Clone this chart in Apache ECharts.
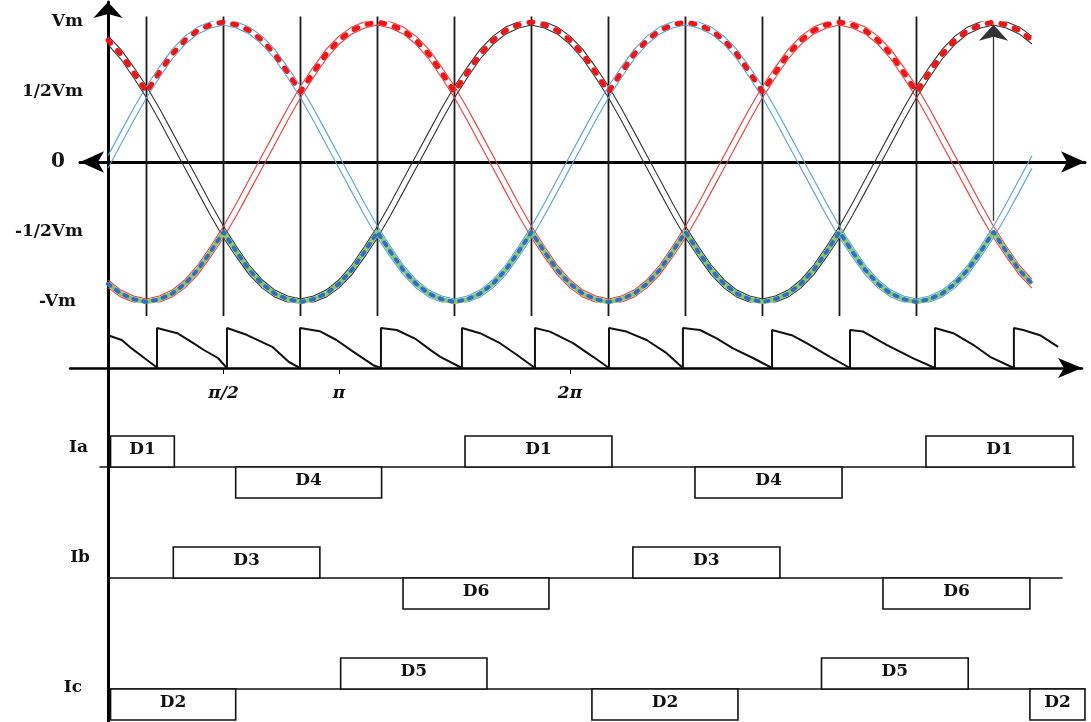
<!DOCTYPE html>
<html><head><meta charset="utf-8">
<script src="https://cdn.jsdelivr.net/npm/echarts@6/dist/echarts.min.js"></script>
<style>html,body{margin:0;padding:0;background:#fff}#c{width:1091px;height:722px}</style>
</head><body><div id="c"></div>
<script>
// ---------- DATA ----------
// sampling angles (degrees) for the three phase voltages
const angles = Array.from({length: 73}, (_, i) => i * 10);
// phase voltages in units of Vm, read at every 10 degrees
const phaseBlue = [0,.17,.34,.5,.64,.77,.87,.94,.98,1,.98,.94,.87,.77,.64,.5,.34,.17,
  0,-.17,-.34,-.5,-.64,-.77,-.87,-.94,-.98,-1,-.98,-.94,-.87,-.77,-.64,-.5,-.34,-.17,
  0,.17,.34,.5,.64,.77,.87,.94,.98,1,.98,.94,.87,.77,.64,.5,.34,.17,
  0,-.17,-.34,-.5,-.64,-.77,-.87,-.94,-.98,-1,-.98,-.94,-.87,-.77,-.64,-.5,-.34,-.17,0];
const phaseRed = [-.87,-.94,-.98,-1,-.98,-.94,-.87,-.77,-.64,-.5,-.34,-.17,
  0,.17,.34,.5,.64,.77,.87,.94,.98,1,.98,.94,.87,.77,.64,.5,.34,.17,
  0,-.17,-.34,-.5,-.64,-.77,
  -.87,-.94,-.98,-1,-.98,-.94,-.87,-.77,-.64,-.5,-.34,-.17,
  0,.17,.34,.5,.64,.77,.87,.94,.98,1,.98,.94,.87,.77,.64,.5,.34,.17,
  0,-.17,-.34,-.5,-.64,-.77,-.87];
const phaseBlack = [.87,.77,.64,.5,.34,.17,
  0,-.17,-.34,-.5,-.64,-.77,-.87,-.94,-.98,-1,-.98,-.94,-.87,-.77,-.64,-.5,-.34,-.17,
  0,.17,.34,.5,.64,.77,.87,.94,.98,1,.98,.94,
  .87,.77,.64,.5,.34,.17,
  0,-.17,-.34,-.5,-.64,-.77,-.87,-.94,-.98,-1,-.98,-.94,-.87,-.77,-.64,-.5,-.34,-.17,
  0,.17,.34,.5,.64,.77,.87,.94,.98,1,.98,.94,.87];
const yTickValues = [-1, -0.5, 0, 0.5, 1];
const yTickLabels = ['-Vm', '-1/2Vm', '0', '1/2Vm', 'Vm'];
const xTickValues = [90, 180, 360];
const xTickLabels = ['π/2', 'π', '2π'];
const switchAngles = [30, 90, 150, 210, 270, 330, 390, 450, 510, 570, 630];
const arrowAngle = 690;
// output ripple (relative height) [angle, height]
const ripple = [
  [0,.82],[10.7,.7],[18.4,.49],[27,.28],[36.6,.05],[38.2,0],
  [38.2,1],[54,.87],[66.5,.62],[74.7,.45],[85.6,.25],[92.7,0],
  [92.7,1],[108,.83],[128,.53],[141,.15],[149.6,0],
  [149.6,1],[165,.92],[178,.7],[191,.41],[206.7,.07],[212.7,0],
  [212.7,1],[225,.95],[240,.72],[253,.41],[259,.28],[275.8,0],
  [275.8,1],[289.9,.87],[305.5,.62],[318.5,.33],[332.7,0],
  [332.7,1],[344.4,.91],[362.4,.62],[378,.28],[390.4,0],
  [390.4,1],[404,.91],[419.7,.7],[435.3,.37],[448,0],
  [448,1],[461.3,.95],[474.3,.74],[487,.49],[502.6,.25],[517.4,0],
  [517.4,.95],[532.8,.82],[544.4,.62],[562.6,.28],[578.2,0],
  [578.2,.95],[588.5,.91],[606.7,.58],[627.5,.24],[644.4,0],
  [644.4,1],[658.7,.87],[674.2,.58],[687.3,.28],[705.9,0],
  [705.9,1],[713.2,.95],[726.2,.82],[740.4,.53]
];
const rowNames = ['Ia', 'Ib', 'Ic'];
// conduction intervals [start, end, direction]
const iaBoxes = [[2,51.7,1],[99.5,213.2,-1],[278.2,392.7,1],[457.4,572,-1],[637.4,752,1]];
const iaLabels = ['D1','D4','D1','D4','D1'];
const ibBoxes = [[50.9,165.1,1],[229.9,343.6,-1],[409,523.6,1],[603.9,718.4,-1]];
const ibLabels = ['D3','D6','D3','D6'];
const icBoxes = [[2,99.5,-1],[181.3,295.3,1],[377.1,490.9,-1],[556,670.3,1],[718.4,761.3,-1]];
const icLabels = ['D2','D5','D2','D5','D2'];

// ---------- LAYOUT ----------
const K = 1.2833, X0 = 108, VPX = 140;
function gridBox(minD, maxD, top, height) {
  return {left: X0 + minD * K, width: (maxD - minD) * K, top: top, height: height, containLabel: false, outerBoundsMode: 'none'};
}
const serif = '"DejaVu Serif", "Liberation Serif", serif';
const hidden = {show: false};

const waveMin = -21.8, waveMax = 761.3;
const ripMin = -29.6, ripMax = 759;
const rowRanges = [[-6.2, 753.5, 436], [0, 743.4, 547], [0, 761.3, 658]];
const rowLabelPos = [0.64, 0.66, 0.06];
const rowGaps = [20, 18, 26];

const grids = [
  {left: X0, width: 10, top: 2, height: 720, containLabel: false, outerBoundsMode: 'none'},
  gridBox(waveMin, waveMax, 22, 280),
  gridBox(ripMin, ripMax, 328, 40)
];
rowRanges.forEach(r => grids.push(gridBox(r[0], r[1], r[2], 62)));

const xAxes = [
  {gridIndex: 0, type: 'value', min: 0, max: 1, show: false},
  {gridIndex: 1, type: 'value', min: waveMin, max: waveMax,
   axisLine: {show: true, onZero: true, symbol: ['arrow', 'arrow'], symbolSize: [16, 24], lineStyle: {color: '#000', width: 3}},
   axisTick: hidden, axisLabel: hidden, splitLine: hidden},
  {gridIndex: 2, type: 'value', min: ripMin, max: ripMax,
   axisLine: {show: true, onZero: true, symbol: ['none', 'arrow'], symbolSize: [15, 24], lineStyle: {color: '#000', width: 2.5}},
   axisTick: {show: true, customValues: xTickValues, length: 6, lineStyle: {color: '#000', width: 1}},
   axisLabel: {show: true, customValues: xTickValues, margin: 17,
     formatter: v => xTickLabels[xTickValues.indexOf(v)] || '',
     fontFamily: serif, fontStyle: 'italic', fontWeight: 'bold', fontSize: 17, color: '#111'},
   splitLine: hidden}
];
rowRanges.forEach((r, i) => xAxes.push({gridIndex: 3 + i, type: 'value', min: r[0], max: r[1],
  axisLine: {show: true, onZero: true, lineStyle: {color: '#111', width: 1.5}},
  axisTick: hidden, axisLabel: hidden, splitLine: hidden}));

const yAxes = [
  {gridIndex: 0, type: 'value', min: 0, max: 1,
   axisLine: {show: true, onZero: false, symbol: ['none', 'arrow'], symbolSize: [22, 16], lineStyle: {color: '#000', width: 3}},
   axisTick: hidden, axisLabel: hidden, splitLine: hidden},
  {gridIndex: 1, type: 'value', min: -1, max: 1, interval: 0.5, offset: waveMin * K,
   axisLine: {show: false, onZero: false}, axisTick: hidden, splitLine: hidden,
   axisLabel: {show: true, margin: 25, fontFamily: serif, fontWeight: 'bold', fontSize: 17, color: '#111',
     formatter: v => {
       const s = yTickLabels[yTickValues.indexOf(v)];
       if (s === '0') return '{z|0}';
       if (s === '-Vm') return '{n|-Vm}';
       return s;
     },
     rich: {z: {fontFamily: serif, fontWeight: 'bold', fontSize: 20, color: '#111', padding: [0, 18, 0, 0]},
            n: {fontFamily: serif, fontWeight: 'bold', fontSize: 17, color: '#111', padding: [0, 7, 0, 0]}}}},
  {gridIndex: 2, type: 'value', min: 0, max: 1, show: false}
];
rowRanges.forEach((r, i) => yAxes.push({gridIndex: 3 + i, type: 'value', min: -1, max: 1, offset: r[0] * K,
  axisLine: {show: false, onZero: false}, axisTick: hidden, splitLine: hidden,
  axisLabel: {show: true, customValues: [rowLabelPos[i]], formatter: () => rowNames[i], margin: rowGaps[i],
    fontFamily: serif, fontWeight: 'bold', fontSize: 17, color: '#111'}}));

// ---------- SERIES ----------
const series = [];
const HALF = 3; // half-width (px) of the hand-drawn double stroke
function tube(p, sign) {
  return angles.map((a, i) => {
    const i0 = Math.max(0, i - 1), i1 = Math.min(p.length - 1, i + 1);
    const s = ((p[i1] - p[i0]) * VPX) / ((angles[i1] - angles[i0]) * K);
    return [a, p[i] + sign * HALF * Math.sqrt(1 + s * s) / VPX];
  });
}
const phases = [[phaseBlack, '#333333'], [phaseRed, '#f23a3a'], [phaseBlue, '#55a2de']];
phases.forEach(p => {
  [1, -1].forEach(sg => {
    series.push({type: 'line', xAxisIndex: 1, yAxisIndex: 1, silent: true, animation: false,
      showSymbol: false, symbol: 'none', z: 2,
      data: tube(p[0], sg),
      lineStyle: {color: p[1], width: 1.1}});
  });
});
// switching instants (vertical lines)
series.push({type: 'custom', xAxisIndex: 1, yAxisIndex: 1, silent: true, animation: false, clip: false, z: 1,
  data: switchAngles.map(a => [a]),
  renderItem: function (params, api) {
    const t = api.coord([api.value(0), 1.04]);
    const b = api.coord([api.value(0), -1.1]);
    return {type: 'line', shape: {x1: t[0], y1: t[1], x2: b[0], y2: b[1]}, style: {stroke: '#1a1a1a', lineWidth: 1.8}};
  }});
// arrow marker
series.push({type: 'line', xAxisIndex: 1, yAxisIndex: 1, silent: true, animation: false, showSymbol: false, z: 1,
  data: [[arrowAngle, 0]],
  markLine: {silent: true, animation: false, label: {show: false}, symbol: ['none', 'arrow'], symbolSize: [22, 16],
    lineStyle: {color: '#333', width: 1.3, type: 'solid', opacity: 1},
    data: [[{coord: [arrowAngle, -0.42]}, {coord: [arrowAngle, 0.98]}]]}});
// upper / lower envelopes
const upper = angles.map((a, i) => [a, Math.max(phaseBlue[i], phaseRed[i], phaseBlack[i])]);
const lower = angles.map((a, i) => [a, Math.min(phaseBlue[i], phaseRed[i], phaseBlack[i])]);
series.push({type: 'line', xAxisIndex: 1, yAxisIndex: 1, silent: true, animation: false, showSymbol: false, z: 4,
  data: upper, lineStyle: {color: '#f01414', width: 5, type: [4, 10], cap: 'round', join: 'round'}});
series.push({type: 'line', xAxisIndex: 1, yAxisIndex: 1, silent: true, animation: false, showSymbol: false, z: 4,
  data: lower, lineStyle: {color: '#86c96f', width: 4.5, join: 'round'}});
series.push({type: 'line', xAxisIndex: 1, yAxisIndex: 1, silent: true, animation: false, showSymbol: false, z: 5,
  data: lower, lineStyle: {color: '#2e6fc0', width: 4, type: [3, 7], cap: 'round', join: 'round'}});
// output ripple
series.push({type: 'line', xAxisIndex: 2, yAxisIndex: 2, silent: true, animation: false, showSymbol: false, clip: false,
  data: ripple, lineStyle: {color: '#111', width: 2}});
// conduction boxes
function boxSeries(idx, boxes, labels) {
  return {type: 'custom', xAxisIndex: 3 + idx, yAxisIndex: 3 + idx, silent: true, animation: false, clip: false, z: 3,
    data: boxes,
    renderItem: function (params, api) {
      const p1 = api.coord([api.value(0), 0]);
      const p2 = api.coord([api.value(1), api.value(2)]);
      return {type: 'group', children: [
        {type: 'rect', shape: {x: p1[0], y: Math.min(p1[1], p2[1]), width: p2[0] - p1[0], height: Math.abs(p2[1] - p1[1])},
         style: {fill: '#fff', stroke: '#111', lineWidth: 1.6}},
        {type: 'text', style: {text: labels[params.dataIndex], x: (p1[0] + p2[0]) / 2, y: (p1[1] + p2[1]) / 2 - 2,
          align: 'center', verticalAlign: 'middle', font: 'bold 17px ' + serif, fill: '#111'}}
      ]};
    }};
}
series.push(boxSeries(0, iaBoxes, iaLabels));
series.push(boxSeries(1, ibBoxes, ibLabels));
series.push(boxSeries(2, icBoxes, icLabels));

const chart = echarts.init(document.getElementById('c'), null, {renderer: 'canvas'});
chart.setOption({
  backgroundColor: '#fff',
  animation: false,
  grid: grids,
  xAxis: xAxes,
  yAxis: yAxes,
  series: series
});
</script>
</body></html>
